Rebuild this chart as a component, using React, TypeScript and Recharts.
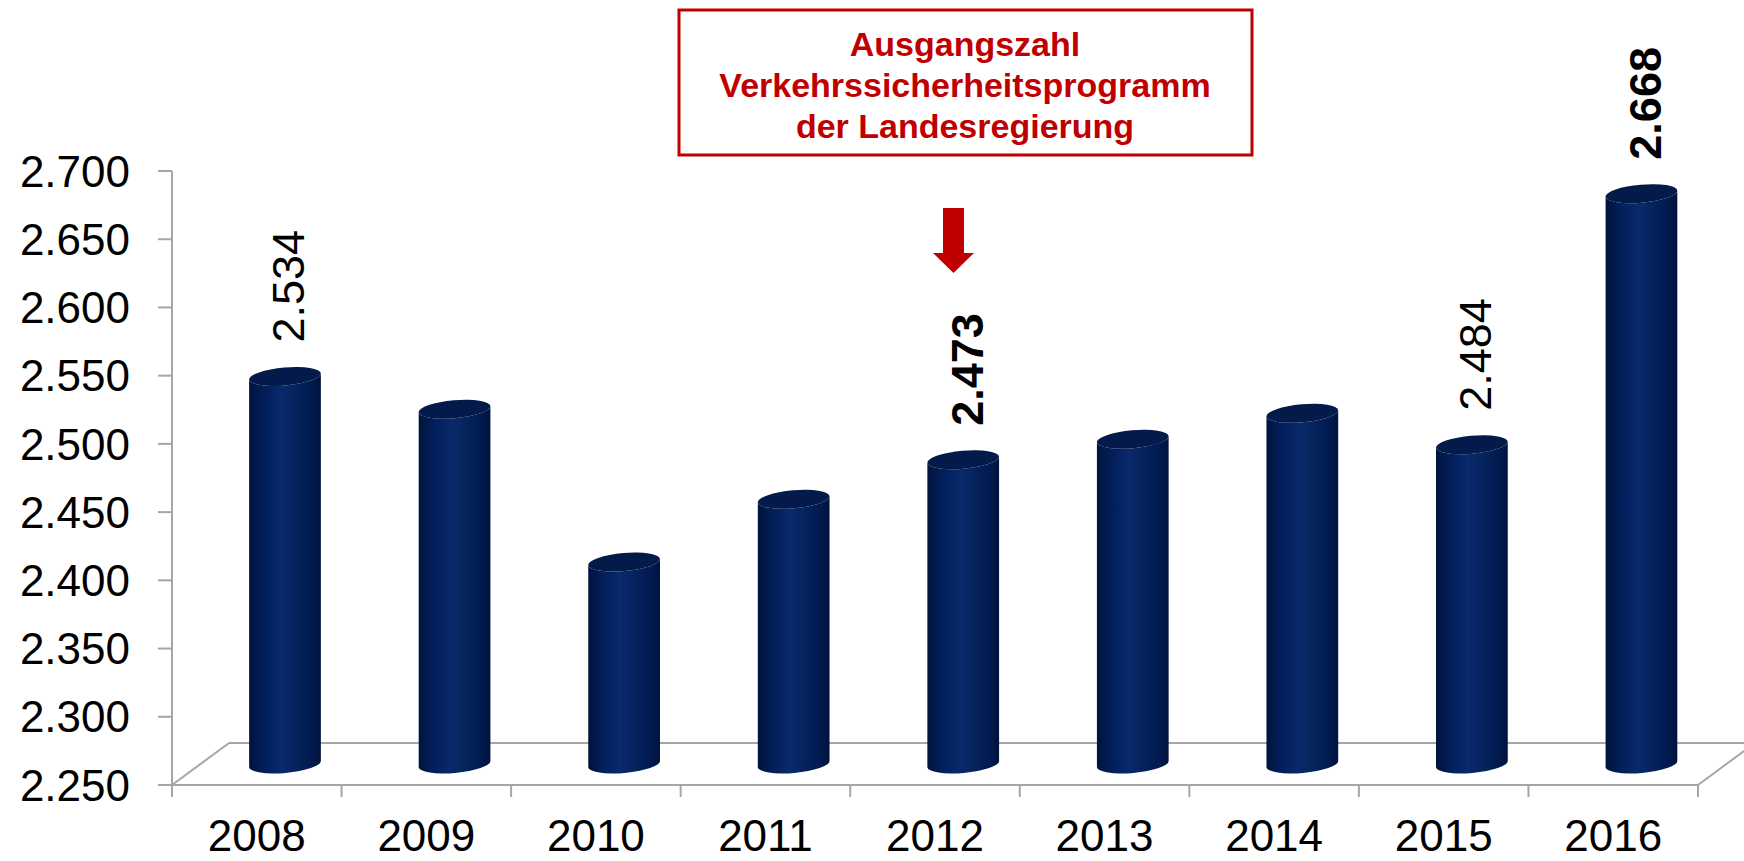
import React from "react";
import { BarChart, Bar, XAxis, YAxis, LabelList } from "recharts";

const years = ["2008", "2009", "2010", "2011", "2012", "2013", "2014", "2015", "2016"];
const values = [2534, 2510, 2398, 2444, 2473, 2488, 2507, 2484, 2668];
// which bars carry a value label, and how it is weighted
const labelWeights = ["normal", null, null, null, "bold", null, null, "normal", "bold"];
const yTicks = [2250, 2300, 2350, 2400, 2450, 2500, 2550, 2600, 2650, 2700];
const noteLines = ["Ausgangszahl", "Verkehrssicherheitsprogramm", "der Landesregierung"];

const data = years.map((year, i) => ({ year, value: values[i], weight: labelWeights[i] }));

const FONT = '"Liberation Sans", Arial, Helvetica, sans-serif';
const GRID = "#a6a6a6";
const RED = "#c00000";
// half of the 3D depth: columns stand in the middle of the floor
const DX = 28;
const DY = -21;

// German thousands separator
function fmt(v: number): string {
  return `${Math.floor(v / 1000)}.${String(v % 1000).padStart(3, "0")}`;
}

function Cylinder(props: any) {
  const { x, y, width, height, index } = props;
  if (width == null || height == null) return null;
  const rx = width / 2;
  const ry = 9;
  const cx = x + rx + DX;
  const top = y + DY;
  const bottom = y + height + DY;
  const t = (5 * Math.PI) / 180;
  const ox = rx * Math.cos(t);
  const oy = rx * Math.sin(t);
  const id = `cyl-grad-${index}`;
  const body = [
    `M ${cx - ox} ${top + oy}`,
    `L ${cx - ox} ${bottom + oy}`,
    `A ${rx} ${ry} -5 0 0 ${cx + ox} ${bottom - oy}`,
    `L ${cx + ox} ${top - oy}`,
    `A ${rx} ${ry} -5 0 1 ${cx - ox} ${top + oy}`,
    "Z",
  ].join(" ");
  return (
    <g>
      <defs>
        <linearGradient id={id} x1="0" y1="0" x2="1" y2="0">
          <stop offset="0%" stopColor="#00133a" />
          <stop offset="18%" stopColor="#021d58" />
          <stop offset="45%" stopColor="#08296b" />
          <stop offset="62%" stopColor="#06245f" />
          <stop offset="88%" stopColor="#011a4f" />
          <stop offset="100%" stopColor="#00123a" />
        </linearGradient>
      </defs>
      <path d={body} fill={`url(#${id})`} />
      <ellipse cx={cx} cy={top} rx={rx} ry={ry} transform={`rotate(-5 ${cx} ${top})`} fill="#031a4a" />
    </g>
  );
}

function ValueLabel(props: any) {
  const vb = props.viewBox || props;
  const { x, y, width } = vb;
  const row = data[props.index];
  if (!row || !row.weight || x == null) return null;
  const lx = x + width / 2 + DX + 4;
  const ly = y + DY - 34;
  return (
    <text
      x={lx}
      y={ly}
      transform={`rotate(-90 ${lx} ${ly})`}
      textAnchor="start"
      dominantBaseline="central"
      fontFamily={FONT}
      fontSize={45}
      fontWeight={row.weight}
      fill="#000"
    >
      {fmt(row.value)}
    </text>
  );
}

function YearTick(props: any) {
  const { x, y, payload, index } = props;
  const half = payload && payload.offset ? payload.offset : 84.8;
  const last = index === years.length - 1;
  return (
    <g>
      <line x1={x - half} y1={y} x2={x - half} y2={y + 12} stroke={GRID} strokeWidth={2} />
      {last && <line x1={x + half} y1={y} x2={x + half} y2={y + 12} stroke={GRID} strokeWidth={2} />}
      <text x={x} y={y + 66} textAnchor="middle" fontFamily={FONT} fontSize={44} fill="#000">
        {payload.value}
      </text>
    </g>
  );
}

function Floor() {
  return (
    <svg width={1744} height={861} style={{ position: "absolute", left: 0, top: 0 }}>
      <line x1={172} y1={785} x2={229} y2={743} stroke={GRID} strokeWidth={2} />
      <line x1={229} y1={743} x2={1744} y2={743} stroke={GRID} strokeWidth={2} />
      <line x1={1698} y1={785} x2={1744} y2={751} stroke={GRID} strokeWidth={2} />
    </svg>
  );
}

function Note() {
  return (
    <svg width={1744} height={861} style={{ position: "absolute", left: 0, top: 0, pointerEvents: "none" }}>
      <rect x={679} y={10} width={573} height={145} fill="#fff" stroke={RED} strokeWidth={3} />
      {noteLines.map((line, i) => (
        <text
          key={line}
          x={965}
          y={56 + i * 41}
          textAnchor="middle"
          fontFamily={FONT}
          fontWeight="bold"
          fontSize={34}
          fill={RED}
        >
          {line}
        </text>
      ))}
      <path d="M 943 208 L 964 208 L 964 253 L 974 253 L 953.5 273 L 933 253 L 943 253 Z" fill={RED} />
    </svg>
  );
}

export default function App() {
  return (
    <div style={{ position: "absolute", left: 0, top: 0, width: 1744, height: 861, background: "#fff" }}>
      <Floor />
      <div style={{ position: "absolute", left: 0, top: 0 }}>
        <BarChart width={1744} height={861} data={data} margin={{ top: 171, right: 46, bottom: 0, left: 0 }}>
          <XAxis
            dataKey="year"
            height={76}
            axisLine={{ stroke: GRID, strokeWidth: 2 }}
            tickLine={false}
            tickSize={0}
            tickMargin={0}
            interval={0}
            tick={<YearTick />}
          />
          <YAxis
            width={172}
            domain={[2250, 2700]}
            ticks={yTicks}
            allowDataOverflow
            axisLine={{ stroke: GRID, strokeWidth: 2 }}
            tickLine={{ stroke: GRID, strokeWidth: 2 }}
            tickSize={14}
            tickMargin={28}
            tickFormatter={fmt}
            tick={{ fill: "#000", fontSize: 44, fontFamily: FONT }}
          />
          <Bar dataKey="value" barSize={72} shape={<Cylinder />} isAnimationActive={false}>
            <LabelList dataKey="value" content={<ValueLabel />} />
          </Bar>
        </BarChart>
      </div>
      <Note />
    </div>
  );
}
